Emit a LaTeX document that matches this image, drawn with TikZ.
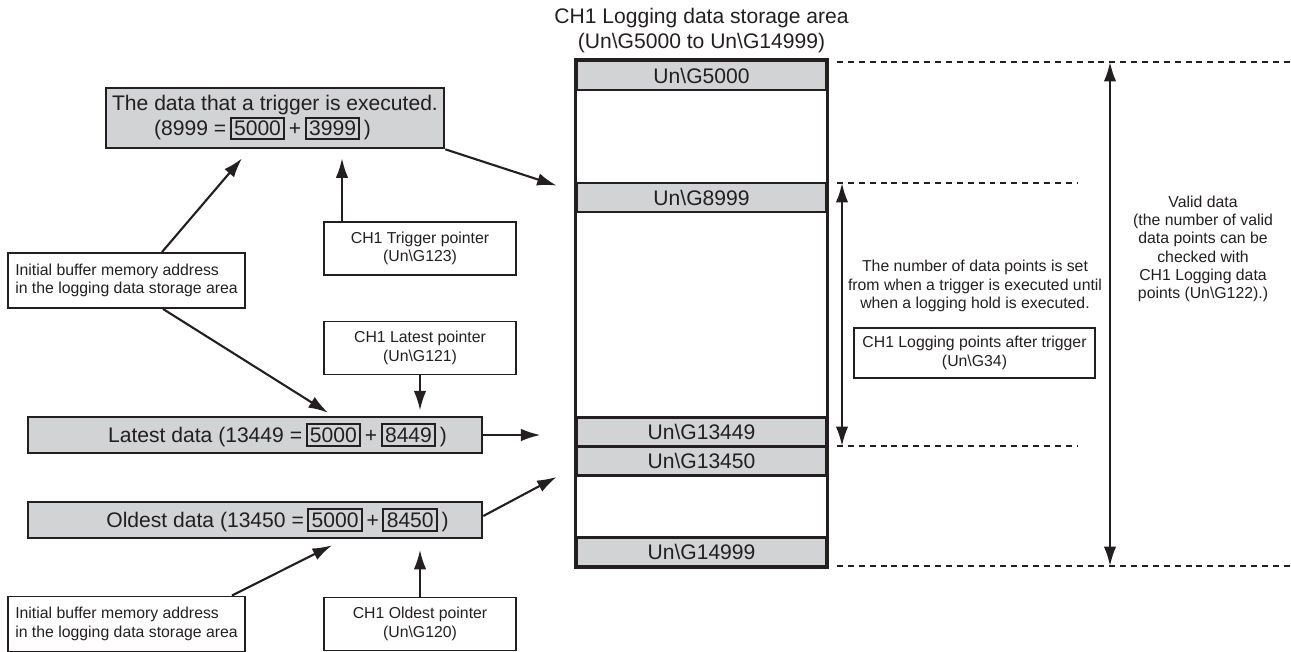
\documentclass[tikz,border=0pt]{standalone}
\usepackage{fontspec}
\setmainfont{Liberation Sans}
\usetikzlibrary{arrows.meta,calc}
\definecolor{cellgray}{RGB}{209,211,212}
\definecolor{ink}{RGB}{35,31,32}
\newcommand{\unG}[1]{Un\textbackslash G#1}
\newcommand{\nbox}[1]{{\setlength{\fboxsep}{1.4pt}\setlength{\fboxrule}{1.1pt}\fbox{#1}}}

\begin{document}
\begin{tikzpicture}[x=0.02cm,y=-0.02cm,color=ink,
  bigtxt/.style={font=\fontsize{12}{14.2}\selectfont},
  smalltxt/.style={font=\fontsize{9}{10.4}\selectfont},
  cell/.style={draw,fill=cellgray,line width=1.6pt,minimum width=4.98cm,minimum height=0.58cm,inner sep=0,bigtxt},
  databox/.style={draw,fill=cellgray,line width=1.5pt,inner sep=0,bigtxt},
  ptrbox/.style={draw,line width=1.1pt,minimum width=3.84cm,minimum height=1.06cm,inner sep=0,smalltxt,align=center},
  initbox/.style={draw,line width=1.1pt,minimum width=4.74cm,minimum height=1.1cm,inner sep=0,smalltxt,align=left},
  arr/.style={-{Latex[length=3.9mm,width=2.5mm]},line width=1.2pt},
  darr/.style={{Latex[length=3.9mm,width=2.5mm]}-{Latex[length=3.9mm,width=2.5mm]},line width=1.2pt},
  dashline/.style={line width=1.3pt,dash pattern=on 3.4pt off 2.8pt}]
  \useasboundingbox (0,0) rectangle (1291,652);
  % storage area
  \node[bigtxt,align=center,inner sep=0] (title) at (701.5,30.5)
    {CH1 Logging data storage area\\(\unG{5000} to \unG{14999})};
  \node[cell] (r5000)  at (701.5,75.5) {\unG{5000}};
  \node[cell] (r8999)  at (701.5,197.5) {\unG{8999}};
  \node[cell] (r13449) at (701.5,432) {\unG{13449}};
  \node[cell] (r13450) at (701.5,461) {\unG{13450}};
  \node[cell] (r14999) at (701.5,552) {\unG{14999}};
  \draw[line width=1.6pt] (r5000.north west) rectangle (r14999.south east);
  % dashed limits
  \coordinate (top)  at (837,62);
  \coordinate (trg)  at (837,183);
  \coordinate (hold) at (837,446);
  \coordinate (bot)  at (837,566);
  \draw[dashline] (top) -- (1291,62) (trg) -- (1077,183) (hold) -- (1077,446) (bot) -- (1291,566);
  % ranges
  \draw[darr] ($(trg)+(5,0)$) -- ($(hold)+(5,0)$);
  \draw[darr] (1110,62) -- (1110,566);
  \node[smalltxt,align=center,inner sep=0] (ntxt) at (975,286)
    {The number of data points is set\\from when a trigger is executed until\\when a logging hold is executed.};
  \node[draw,line width=1.1pt,minimum width=4.82cm,minimum height=1.0cm,inner sep=0,smalltxt,align=center] (lpat) at (974.5,353)
    {CH1 Logging points after trigger\\(\unG{34})};
  \node[smalltxt,align=center,inner sep=0] (valid) at (1203,249)
    {Valid data\\(the number of valid\\data points can be\\checked with\\CH1 Logging data\\points (\unG{122}).)};
  % left side boxes
  \node[databox,minimum width=6.76cm,minimum height=1.2cm,align=left] (trig) at (275,118)
    {The data that a trigger is executed.\\\hspace*{0.84cm}(8999 =\,\nbox{5000}\,+\,\nbox{3999}\,)};
  \node[databox,minimum width=9.08cm,minimum height=0.72cm] (latest) at (255,435)
    {\hspace*{0.9cm}Latest data (13449 =\,\nbox{5000}\,+\,\nbox{8449}\,)};
  \node[databox,minimum width=9.08cm,minimum height=0.72cm] (oldest) at (255,520)
    {\hspace*{0.9cm}Oldest data (13450 =\,\nbox{5000}\,+\,\nbox{8450}\,)};
  \node[ptrbox] (tptr) at (420,248.5) {CH1 Trigger pointer\\(\unG{123})};
  \node[ptrbox] (lptr) at (420,348) {CH1 Latest pointer\\(\unG{121})};
  \node[ptrbox] (optr) at (420,624) {CH1 Oldest pointer\\(\unG{120})};
  \node[initbox] (init1) at (126.5,280.5) {Initial buffer memory address\\in the logging data storage area};
  \node[initbox] (init2) at (126.5,624) {Initial buffer memory address\\in the logging data storage area};
  % pointers
  \draw[arr] ($(init1.north)+(35.5,0)$) -- ($(trig.south)+(-33,9)$);
  \draw[arr] ($(tptr.north)+(-78,0)$) -- ($(trig.south)+(67,9)$);
  \draw[arr] (trig.south east) -- ($(r8999.north west)+(-19,4)$);
  \draw[arr] ($(init1.south)+(36.5,0)$) -- ($(latest.north)+(73,-3)$);
  \draw[arr,shorten >=3] (lptr.south) -- (lptr.south |- latest.north);
  \draw[arr,shorten >=20] (latest.east) -- (latest.east -| r13449.west);
  \draw[arr] ($(oldest.east)+(0,-4)$) -- ($(r13450.south west)+(-19,0)$);
  \draw[arr] ($(init2.north)+(105.5,0)$) -- ($(oldest.south)+(77,6)$);
  \draw[arr,shorten >=6] (optr.north) -- (optr.north |- oldest.south);
\end{tikzpicture}
\end{document}
